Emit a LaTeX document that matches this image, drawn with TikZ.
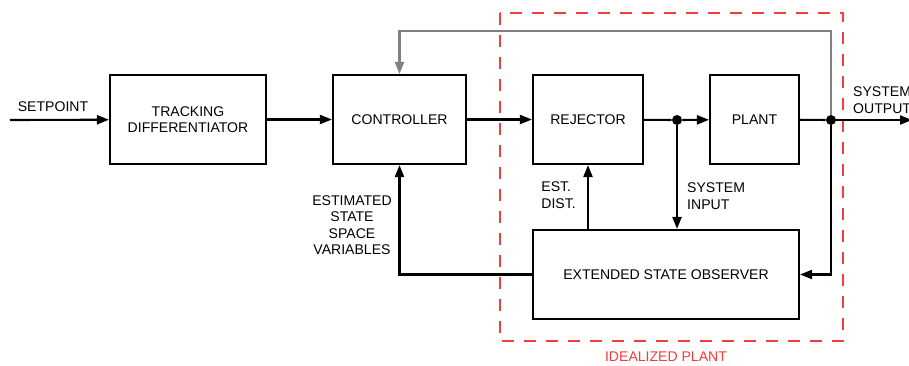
\documentclass[tikz,border=0pt]{standalone}
\usepackage{fontspec}
\setmainfont{Liberation Sans}
\usepackage{xcolor}
\usetikzlibrary{positioning, arrows.meta}

\definecolor{plantred}{RGB}{245,60,60}
\definecolor{fbgray}{RGB}{128,128,128}

\tikzset{
    block/.style={draw, line width=1.2pt, minimum height=1.78cm, align=center},
    link/.style={line width=1.2pt, -{Triangle[length=0.24cm,width=0.18cm]}},
    wire/.style={line width=1.2pt},
    junction/.style={circle, fill, inner sep=0pt, minimum size=0.2cm},
}

\begin{document}
\begin{tikzpicture}[x=0.02cm, y=-0.02cm, font=\fontsize{8}{9.4}\selectfont]
    \useasboundingbox (0,0) rectangle (909,365);

    % idealized plant frame
    \draw[plantred, line width=1.2pt, dash pattern=on 0.24cm off 0.2cm] (500,13) rectangle (843,341);
    \node[plantred] (idl) at (666,357) {IDEALIZED PLANT};

    % blocks
    \node[block, minimum width=3.12cm] (td) at (188,119.5) {TRACKING\\DIFFERENTIATOR};
    \node[block, minimum width=2.66cm] (ctrl) at (399.5,119.5) {CONTROLLER};
    \node[block, minimum width=2.2cm] (rej) at (588,119.5) {REJECTOR};
    \node[block, minimum width=1.78cm] (plant) at (754.5,119.5) {PLANT};
    \node[block, minimum width=5.32cm] (eso) at (666,274.5) {EXTENDED STATE OBSERVER};

    % branch points
    \node[junction] (j1) at (677,120) {};
    \node[junction] (j2) at (831,120) {};
    \coordinate (sp) at (10,120);
    \coordinate (out) at (912,120);
    \coordinate (fbtop) at (831,31);

    % forward path
    \draw[link] (sp) -- (td);
    \draw[link] (td) -- (ctrl);
    \draw[link] (ctrl) -- (rej);
    \draw[wire] (rej) -- (j1);
    \draw[link] (j1) -- (plant);
    \draw[wire] (plant) -- (j2);
    \draw[link] (j2) -- (out);

    % feedback paths
    \draw[link, fbgray] (j2) -- (fbtop) -| (ctrl.north);
    \draw[link] (j2) |- (eso.east);
    \draw[link] (j1) -- (j1 |- eso.north);
    \draw[link] (eso.north -| rej.center) -- (rej.south);
    \draw[link] (eso.west) -| (ctrl.south);

    % signal labels
    \node (spl) at (53,107) {SETPOINT};
    \node[anchor=west, align=left] (outl) at (847,100) {SYSTEM\\OUTPUT};
    \node[anchor=east, align=left] (dist) at (582,195) {EST.\\DIST.};
    \node[anchor=west, align=left] (inl) at (681,196) {SYSTEM\\INPUT};
    \node[align=center] (estl) at (352,225) {ESTIMATED\\STATE\\SPACE\\VARIABLES};
\end{tikzpicture}
\end{document}
